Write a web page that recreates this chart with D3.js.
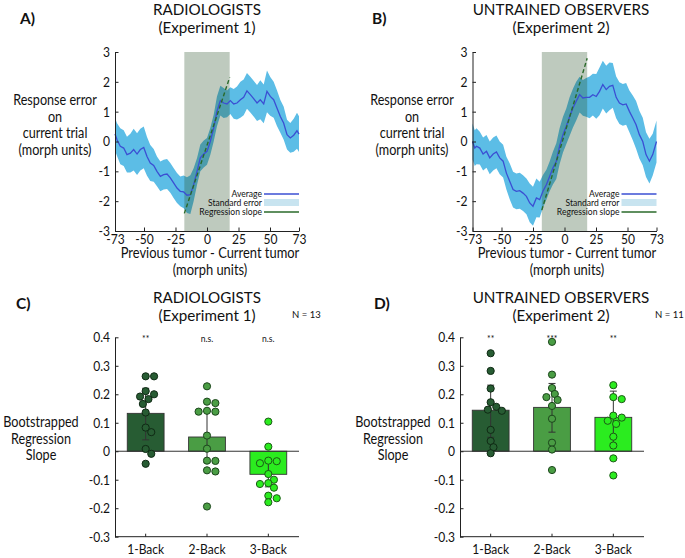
<!DOCTYPE html>
<html><head><meta charset="utf-8">
<script src="https://cdn.jsdelivr.net/npm/d3@7"></script>
<style>body{margin:0;background:#fff;} text{font-family:Lato,sans-serif;fill:#111;}</style>
</head><body>
<svg id="c" width="685" height="558"></svg>
<script>
// ---------- DATA ----------
const lineXTicks = [-73,-50,-25,0,25,50,73];
const lineYTicks = [-3,-2,-1,0,1,2,3];
const shadeRange = [-18,18];

const xA = [-73,-71.4,-68.8,-66.1,-63.5,-60.8,-58.2,-55.5,-52.9,-50.2,-47.6,-45.0,-42.3,-39.7,-37.0,-34.4,-31.7,-29.1,-26.5,-23.8,-21.2,-18.5,-15.9,-13.2,-10.6,-7.9,-5.3,-2.6,0.0,2.6,5.3,7.9,10.6,13.2,15.9,18.5,21.2,23.8,26.5,29.1,31.7,34.4,37.0,39.7,42.3,45.0,47.6,50.2,52.9,55.5,58.2,60.8,63.5,66.1,68.8,71.4,73];
const meanA = [0.25,0.06,-0.16,-0.22,-0.44,-0.39,-0.27,-0.42,-0.27,-0.2,-0.5,-0.72,-0.8,-1.0,-1.17,-1.11,-1.09,-1.22,-1.39,-1.56,-1.67,-1.69,-1.80,-1.78,-1.45,-1.0,-0.55,-0.42,-0.33,0.0,0.45,1.01,1.37,1.29,1.26,1.37,1.26,1.29,1.40,1.48,1.70,1.57,1.44,1.29,1.40,1.26,1.68,1.51,1.40,1.12,0.84,0.62,0.23,0.12,0.21,0.36,0.25];
const seA = [0.55,0.55,0.6,0.6,0.6,0.65,0.7,0.7,0.7,0.7,0.65,0.6,0.55,0.5,0.5,0.5,0.5,0.5,0.5,0.5,0.5,0.55,0.6,0.65,0.55,0.45,0.45,0.45,0.45,0.45,0.45,0.5,0.5,0.5,0.45,0.45,0.5,0.55,0.6,0.6,0.6,0.6,0.6,0.6,0.65,0.65,0.7,0.65,0.6,0.6,0.55,0.55,0.5,0.5,0.55,0.6,0.6];
const regA = [[-18,-2.41],[18,2.15]];

const xB = [-73,-71.2,-69.8,-67.2,-64.6,-61.9,-59.3,-56.6,-54.0,-51.4,-48.7,-46.1,-43.4,-40.8,-38.2,-35.5,-32.9,-30.2,-27.6,-25.0,-22.3,-19.7,-17.1,-14.4,-11.8,-9.2,-6.5,-3.9,-1.2,1.4,4.1,6.7,9.3,12.0,14.6,17.2,19.9,22.5,25.2,27.8,30.4,33.1,35.7,38.3,41.0,43.6,46.3,48.9,51.5,54.2,56.8,59.4,62.1,64.7,67.4,70.0,73];
const meanB = [0.0,-0.22,-0.16,-0.22,-0.42,-0.33,-0.55,-0.42,-0.35,-0.55,-0.66,-1.06,-1.34,-1.61,-1.67,-1.65,-1.73,-1.84,-2.06,-2.17,-1.89,-1.95,-1.67,-1.45,-1.17,-0.89,-0.66,-0.16,0.23,0.51,0.84,1.12,1.35,1.57,1.46,1.48,1.48,1.57,1.51,1.68,1.91,1.74,1.85,1.88,1.48,1.29,1.23,1.26,1.01,0.79,0.56,0.23,0.0,-0.44,-0.66,-0.44,0.0];
const seB = [0.6,0.6,0.6,0.55,0.55,0.55,0.55,0.55,0.55,0.55,0.55,0.55,0.6,0.6,0.6,0.6,0.6,0.6,0.65,0.65,0.65,0.6,0.55,0.5,0.5,0.55,0.6,0.6,0.6,0.6,0.65,0.65,0.65,0.6,0.6,0.65,0.7,0.7,0.75,0.8,0.8,0.8,0.8,0.75,0.7,0.7,0.7,0.7,0.7,0.75,0.8,0.8,0.8,0.75,0.75,0.7,0.7];
const regB = [[-18,-2.30],[18,2.79]];

const categories = ["1-Back","2-Back","3-Back"];
const barYTicks = [-0.3,-0.2,-0.1,0,0.1,0.2,0.3,0.4];
const barTickLabels = ["-0.3","-0.2","-0.1","0","0.1","0.2","0.3","0.4"];

const barsC = [0.133,0.050,-0.081];
const errC = [[0.040,0.221],[-0.040,0.141],[-0.125,-0.037]];
const dotsC1 = [0.263,0.263,0.211,0.200,0.192,0.183,0.166,0.136,0.083,0.067,0.008,-0.009,-0.044];
const dotsC2 = [0.228,0.174,0.169,0.142,0.139,0.139,0.055,0.009,-0.033,-0.034,-0.067,-0.071,-0.194];
const dotsC3 = [0.104,0.016,-0.033,-0.035,-0.042,-0.080,-0.100,-0.112,-0.115,-0.128,-0.156,-0.165,-0.179];
const sigC = ["**","n.s.","n.s."];

const barsD = [0.144,0.154,0.119];
const errD = [[0.049,0.232],[0.067,0.238],[0.027,0.211]];
const dotsD1 = [0.344,0.282,0.220,0.172,0.156,0.146,0.142,0.075,0.036,0.014,-0.007];
const dotsD2 = [0.384,0.269,0.222,0.201,0.190,0.180,0.159,0.114,0.030,0.006,-0.066];
const dotsD3 = [0.232,0.190,0.183,0.125,0.118,0.107,0.096,0.051,0.020,-0.025,-0.085];
const sigD = ["**","***","**"];

// ---------- STYLE ----------
const barColors = ["#275c33","#4a9d44","#2bec1f"];
const dotStroke = ["#0f2a14","#1c461c","#1c5a16"];
const FONT = "Lato";
const FONT2 = '"Liberation Sans",Arial,sans-serif';

const svg = d3.select("#c");

// narrow the glyphs horizontally (reference uses a condensed humanist face)
function condense(sel, f){
  sel.each(function(){
    const L = this.getComputedTextLength();
    this.setAttribute("textLength", L*f);
    this.setAttribute("lengthAdjust","spacingAndGlyphs");
  });
}

function multiline(g, lines, x, y0, lh, size, f){
  lines.forEach((l,i)=>{
    const t = g.append("text").attr("x",x).attr("y",y0+i*lh).attr("text-anchor","middle").attr("font-size",size).text(l);
    if(f) condense(t,f);
  });
}

function linePanel(o){
  const g = svg.append("g");
  const x = d3.scaleLinear().domain([-73,73]).range([o.x0,o.x1]);
  const y = d3.scaleLinear().domain([-3,3]).range([o.yb,o.yt]);
  const pts = o.xs.map((v,i)=>({x:v,m:o.mean[i],s:o.se[i]}));
  g.append("path").datum(pts).attr("fill","#5cbde6")
    .attr("d", d3.area().x(d=>x(d.x)).y0(d=>y(d.m-d.s)).y1(d=>y(d.m+d.s)));
  g.append("rect").attr("x",x(shadeRange[0])).attr("width",x(shadeRange[1])-x(shadeRange[0]))
    .attr("y",y(3)).attr("height",y(-3)-y(3)).attr("fill","rgba(40,80,40,0.3)");
  g.append("path").datum(pts).attr("fill","none").attr("stroke","#3b4fd3").attr("stroke-width",1.3)
    .attr("d", d3.line().x(d=>x(d.x)).y(d=>y(d.m)));
  g.append("path").datum(o.reg).attr("fill","none").attr("stroke","#2a6a2a").attr("stroke-width",1.4)
    .attr("stroke-dasharray","4,2.5").attr("d", d3.line().x(d=>x(d[0])).y(d=>y(d[1])));
  const ax = g.append("g").attr("transform",`translate(0,${o.yb})`)
    .call(d3.axisBottom(x).tickValues(lineXTicks).tickSizeInner(-3.5).tickSizeOuter(0).tickPadding(3).tickFormat(d=>d));
  const ay = g.append("g").attr("transform",`translate(${o.x0},0)`)
    .call(d3.axisLeft(y).tickValues(lineYTicks).tickSizeInner(-3.5).tickSizeOuter(0).tickPadding(5).tickFormat(d=>d));
  [ax,ay].forEach(a=>{a.selectAll("text").attr("font-size",14).attr("font-family",FONT).attr("fill","#111");
    a.selectAll("path,line").attr("stroke","#222");});
  condense(ax.selectAll("text"),0.86); condense(ay.selectAll("text"),0.86);
  // legend
  const lx = o.x1-35, ly = o.yt+142;
  const items = ["Average","Standard error","Regression slope"];
  items.forEach((t,i)=>{
    const tt = g.append("text").attr("x",lx-2).attr("y",ly+i*9+3.3).attr("text-anchor","end").attr("font-size",9.5).attr("fill","#333").text(t);
    condense(tt,0.9);
  });
  g.append("line").attr("x1",lx).attr("x2",o.x1).attr("y1",ly).attr("y2",ly).attr("stroke","#3b4fd3").attr("stroke-width",1.3);
  g.append("rect").attr("x",lx).attr("width",o.x1-lx).attr("y",ly+5).attr("height",7).attr("fill","#c8e4f0");
  g.append("line").attr("x1",lx).attr("x2",o.x1).attr("y1",ly+18).attr("y2",ly+18).attr("stroke","#2a6a2a").attr("stroke-width",1.3);
  // labels
  g.append("text").attr("x",o.lx).attr("y",24).attr("font-size",15.5).attr("font-weight","bold").attr("font-family",FONT2).text(o.letter);
  multiline(g,o.title,o.tx,14.5,18,15.5,0.98);
  multiline(g,["Response error","on","current trial","(morph units)"],o.ylx,105,16.7,14.5,0.87);
  multiline(g,["Previous tumor - Current tumor","(morph units)"],o.xlx,258,16.5,14.5,0.89);
}

function swarm(vals, y, r){
  const placed=[];
  return vals.map(v=>{
    const py=y(v);
    const cands=[0];
    for(let k=1;k<10;k++){cands.push(k*2.8,-k*2.8);}
    let off=0;
    for(const c of cands){
      if(placed.every(p=>Math.hypot(p.x-c,p.y-py)>=r)){off=c;break;}
    }
    placed.push({x:off,y:py});
    return {v,off};
  });
}

function barPanel(o){
  const g = svg.append("g");
  const x = d3.scaleBand().domain(categories).range([o.x0,o.x1]).paddingInner(0.4).paddingOuter(0.2);
  const y = d3.scaleLinear().domain([-0.3,0.4]).range([o.yb,o.yt]);
  const bw = x.bandwidth();
  categories.forEach((c,i)=>{
    const v=o.bars[i];
    g.append("rect").attr("x",x(c)).attr("width",bw).attr("y",y(Math.max(0,v))).attr("height",Math.abs(y(v)-y(0)))
      .attr("fill",barColors[i]).attr("stroke","#333").attr("stroke-width",0.9);
  });
  g.append("line").attr("x1",o.x0).attr("x2",o.x1).attr("y1",y(0)).attr("y2",y(0)).attr("stroke","#333").attr("stroke-width",1);
  categories.forEach((c,i)=>{
    const cx=x(c)+bw/2, e=o.err[i];
    g.append("line").attr("x1",cx).attr("x2",cx).attr("y1",y(e[0])).attr("y2",y(e[1])).attr("stroke","#333").attr("stroke-width",1);
    [e[0],e[1]].forEach(v=>g.append("line").attr("x1",cx-3.5).attr("x2",cx+3.5).attr("y1",y(v)).attr("y2",y(v)).attr("stroke","#333").attr("stroke-width",1));
  });
  categories.forEach((c,i)=>{
    const cx=x(c)+bw/2;
    swarm(o.dots[i],y,6.5).forEach(d=>{
      g.append("circle").attr("cx",cx+d.off).attr("cy",y(d.v)).attr("r",3.6)
        .attr("fill",barColors[i]).attr("stroke",dotStroke[i]).attr("stroke-width",1);
    });
    const s = g.append("text").attr("x",cx).attr("y",o.yt+5).attr("text-anchor","middle").attr("font-size",9.5).attr("fill","#444").text(o.sig[i]);
    condense(s,0.9);
  });
  const ax = g.append("g").attr("transform",`translate(0,${o.yb})`)
    .call(d3.axisBottom(x).tickSizeInner(-3).tickSizeOuter(0).tickPadding(7));
  const ay = g.append("g").attr("transform",`translate(${o.x0},0)`)
    .call(d3.axisLeft(y).tickValues(barYTicks).tickSizeInner(-3.5).tickSizeOuter(0).tickPadding(5).tickFormat((d,i)=>barTickLabels[i]));
  ax.select(".domain").attr("d",`M${o.x0},0H${o.x1}`);
  [ax,ay].forEach(a=>{a.selectAll("text").attr("font-size",14).attr("font-family",FONT).attr("fill","#111");
    a.selectAll("path,line").attr("stroke","#222");});
  condense(ax.selectAll("text"),0.86); condense(ay.selectAll("text"),0.86);
  g.append("text").attr("x",o.lx).attr("y",309).attr("font-size",15.5).attr("font-weight","bold").attr("font-family",FONT2).text(o.letter);
  multiline(g,o.title,o.tx,303,17.8,15.5,0.98);
  g.append("text").attr("x",o.nx).attr("y",318).attr("font-size",9.5).attr("font-family",FONT2).attr("fill","#222").text(o.n);
  multiline(g,["Bootstrapped","Regression","Slope"],o.ylx,427,16.7,14.5,0.87);
}

linePanel({x0:115,x1:299,yt:52,yb:231,xs:xA,mean:meanA,se:seA,reg:regA,letter:"A)",lx:20,
  title:["RADIOLOGISTS","(Experiment 1)"],tx:207,ylx:55,xlx:210});
linePanel({x0:472.5,x1:656.5,yt:52,yb:231,xs:xB,mean:meanB,se:seB,reg:regB,letter:"B)",lx:372,
  title:["UNTRAINED OBSERVERS","(Experiment 2)"],tx:561,ylx:412,xlx:567});
barPanel({x0:115,x1:299,yt:337.3,yb:536.7,bars:barsC,err:errC,dots:[dotsC1,dotsC2,dotsC3],sig:sigC,letter:"C)",lx:16,
  title:["RADIOLOGISTS","(Experiment 1)"],tx:207,nx:292,n:"N = 13",ylx:41});
barPanel({x0:460,x1:644,yt:337.3,yb:536.7,bars:barsD,err:errD,dots:[dotsD1,dotsD2,dotsD3],sig:sigD,letter:"D)",lx:374,
  title:["UNTRAINED OBSERVERS","(Experiment 2)"],tx:561,nx:655,n:"N = 11",ylx:393});
</script>
</body></html>
